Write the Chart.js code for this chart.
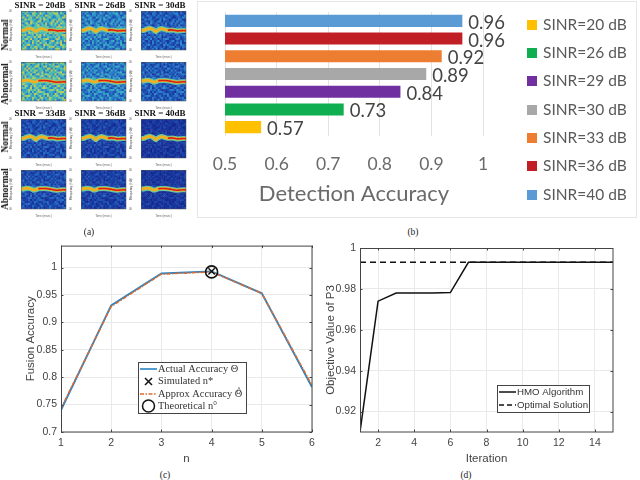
<!DOCTYPE html>
<html><head><meta charset="utf-8">
<script src="https://cdn.jsdelivr.net/npm/chart.js@4"></script>
<style>
html,body{margin:0;padding:0;background:#fff;width:640px;height:480px;overflow:hidden}
canvas{position:absolute}
.t{position:absolute;white-space:nowrap;color:#222;line-height:1;transform:translate(-50%,-50%)}
.cap{font:9.5px "Liberation Serif",serif}
.head{font:bold 9px "Liberation Serif",serif;color:#111;filter:blur(.25px)}
.row{font:bold 9.5px "Liberation Serif",serif;color:#111;transform:translate(-50%,-50%) rotate(-90deg);filter:blur(.25px)}
#frame{position:absolute;left:197px;top:1px;width:440px;height:217px;border:1.5px solid #e6e6e6;box-sizing:border-box}
</style></head><body>
<div id="frame"></div>
<div id="root"></div>
<script>
// ---------- panel (a) ----------
const sinrHeads = ["SINR = 20dB","SINR = 26dB","SINR = 30dB","SINR = 33dB","SINR = 36dB","SINR = 40dB"];
const rowNames = ["Normal","Abnormal","Normal","Abnormal"];
const specTimeTicks = [0.5,1,1.5,2,2.5];
const specFreqTicks = [-200,-100,0,100,200];
const ridgeTime   = [0.1,0.3,0.5,0.7,0.9,1.05,1.2,1.4,1.6,1.8,2.0,2.2,2.4,2.6,2.8,2.95];
const ridgeNormal = [0,2,16,22,6,-12,8,20,12,2,6,3,-4,-2,0,-2];
const ridgeAbnormal=[4,8,14,8,-6,-2,8,10,10,8,2,-4,-8,-5,-3,-4];
const redNormal   = [null,null,null,null,null,null,null,null,null,2,6,3,-4,-2,0,-2];
const redAbnormal = [null,null,null,null,null,null,8,10,10,8,2,-4,-8,-5,-3,-4];
const speckleNormal = [
"362815490372618459250713","517320864195302746981640","240963571824096351375028","683157209463715820146397",
"129476350281964037528610","754208613970425168093472","306819547236081592741865","841572036915470263609134",
"258730164892357014286957","093645827104683729415308","671482950367129485037261","325096718243560871954620",
"948213607591834206173589","160574392870216543628047","537829146053798120496135","482061735914620379052718",
"715340926184370652384901","062893514720968431720965","439106287351604879143286","586214739068215340697052"];
const speckleAbnormal = [
"203758961427593016482971","971460325816042738015364","340825179603781254796208","628193740562319807143659",
"154907368245076193820437","790362581439120645367912","263548017926487351904586","819035642178305926271340",
"507261983340752618659023","346892150763924087318765","082714536109683274540196","695320874251036149782305",
"418607293562840731069254","756129048317965204831670","031586472940213687295418","924370615786501432067893",
"682045197323768140951726","147893260571409326683015","390612854078251963427580","865241703916034852710369"];
// low/high colour-map position of the noise floor per SINR panel
const noiseLow  = [0.32,0.18,0.10,0.07,0.05,0.03];
const noiseHigh = [0.76,0.50,0.38,0.31,0.25,0.19];
const jetStops = [[0,"#141f80"],[.15,"#1b3fa8"],[.3,"#2570c8"],[.45,"#35a8c8"],[.6,"#5cc8a0"],[.75,"#c8d050"],[.9,"#f0a020"],[1,"#d02010"]];

// ---------- panel (b) ----------
const barLabels = ["SINR=20 dB","SINR=26 dB","SINR=29 dB","SINR=30 dB","SINR=33 dB","SINR=36 dB","SINR=40 dB"];
const barValues = [0.57,0.73,0.84,0.89,0.92,0.96,0.96];
const barColors = ["#ffc000","#0fae50","#7030a0","#a8a8a8","#ed7d31","#c01f25","#5b9bd5"];

// ---------- panel (c) ----------
const nValues = [1,2,3,4,5,6];
const actualAccuracy = [0.740,0.931,0.989,0.993,0.953,0.782];
const approxAccuracy = [0.743,0.929,0.988,0.992,0.953,0.785];
const simulatedPoint = [{x:4,y:0.993}];
const theoreticalPoint = [{x:4,y:0.992}];
const fusionTicks = [0.7,0.75,0.8,0.85,0.9,0.95,1];

// ---------- panel (d) ----------
const iterations = [1,2,3,4,5,6,7,8,9,10,11,12,13,14,15];
const hmoValues = [0.91,0.974,0.978,0.978,0.978,0.9782,0.993,0.993,0.993,0.993,0.993,0.993,0.993,0.993,0.993];
const optimalValues = [0.993,0.993,0.993,0.993,0.993,0.993,0.993,0.993,0.993,0.993,0.993,0.993,0.993,0.993,0.993];
const iterTicks = [2,4,6,8,10,12,14];
const objTicks = [0.92,0.94,0.96,0.98,1];

Chart.defaults.animation = false;
Chart.defaults.responsive = false;
Chart.defaults.plugins.legend.display = false;
Chart.defaults.plugins.tooltip.enabled = false;

const root = document.getElementById("root");
function mk(l,t,w,h,extra){const c=document.createElement("canvas");c.width=w;c.height=h;c.style.left=l+"px";c.style.top=t+"px";c.style.width=w+"px";c.style.height=h+"px";if(extra)c.style.filter=extra;root.appendChild(c);return c;}
function text(cls,x,y,s){const d=document.createElement("div");d.className="t "+cls;d.style.left=x+"px";d.style.top=y+"px";d.textContent=s;root.appendChild(d);}
function hex(h){return [1,3,5].map(i=>parseInt(h.substr(i,2),16));}
function jet(v){for(let i=1;i<jetStops.length;i++){if(v<=jetStops[i][0]){const a=jetStops[i-1],b=jetStops[i],f=(v-a[0])/(b[0]-a[0]);const p=hex(a[1]),q=hex(b[1]);return `rgb(${p.map((c,k)=>Math.round(c+(q[k]-c)*f)).join(",")})`;}}return jetStops[7][1];}
const fixed = v => s => { if(s.isHorizontal()){ s.height=v; s.paddingLeft=0; s.paddingRight=0; } else { s.width=v; s.paddingTop=0; s.paddingBottom=0; } };
const setTicks = list => s => { s.ticks = list.map(v=>({value:v})); };

// matlab-like box with inward ticks
const boxPlugin = {id:"boxPlugin",afterDatasetsDraw(ch,a,o){
  const {ctx,chartArea:A,scales:{x,y}}=ch; const L=o.len===undefined?2.5:o.len;
  ctx.save();ctx.strokeStyle=o.color||"#444";ctx.lineWidth=o.width||1;
  ctx.strokeRect(A.left+.5,A.top+.5,A.right-A.left-1+.5,A.bottom-A.top-1+.5);
  ctx.beginPath();
  x.ticks.forEach(t=>{const p=Math.round(x.getPixelForValue(t.value))+.5;ctx.moveTo(p,A.bottom);ctx.lineTo(p,A.bottom-L);ctx.moveTo(p,A.top);ctx.lineTo(p,A.top+L);});
  y.ticks.forEach(t=>{const p=Math.round(y.getPixelForValue(t.value))+.5;ctx.moveTo(A.left,p);ctx.lineTo(A.left+L,p);ctx.moveTo(A.right,p);ctx.lineTo(A.right-L,p);});
  ctx.stroke();ctx.restore();
}};
// boxed legend placed in canvas pixels
const noteLegend = {id:"noteLegend",afterDraw(ch,a,o){
  if(!o.items)return; const ctx=ch.ctx; ctx.save();
  ctx.fillStyle="#fff";ctx.strokeStyle="#444";ctx.lineWidth=1;
  ctx.fillRect(o.x,o.y,o.w,o.h);ctx.strokeRect(o.x+.5,o.y+.5,o.w,o.h);
  ctx.textBaseline="middle";ctx.font=o.font;ctx.letterSpacing=o.spacing||"0px";
  o.items.forEach(it=>{
    ctx.fillStyle="#333";ctx.fillText(it.label,o.x+o.textX,it.y);
    if(it.hat){const w=ctx.measureText(it.label).width,gw=ctx.measureText("Θ").width;ctx.fillText("^",o.x+o.textX+w-gw/2-2,it.y-3);}
    ctx.strokeStyle=it.color;ctx.lineWidth=it.lw||1.5;ctx.setLineDash(it.dash||[]);
    const x0=o.x+2,x1=o.x+o.textX-1;
    if(it.kind==="line"){ctx.beginPath();ctx.moveTo(x0,it.y);ctx.lineTo(x1,it.y);ctx.stroke();}
    else if(it.kind==="x"){const c=(x0+x1)/2,r=3.5;ctx.beginPath();ctx.moveTo(c-r,it.y-r);ctx.lineTo(c+r,it.y+r);ctx.moveTo(c-r,it.y+r);ctx.lineTo(c+r,it.y-r);ctx.stroke();}
    else {const c=(x0+x1)/2;ctx.beginPath();ctx.arc(c,it.y,6,0,7);ctx.stroke();}
    ctx.setLineDash([]);
  });
  ctx.restore();
}};
// value labels and swatch legend of the bar chart
const legendRows = {"SINR=20 dB":23,"SINR=26 dB":51,"SINR=29 dB":79,"SINR=30 dB":108,"SINR=33 dB":136,"SINR=36 dB":164,"SINR=40 dB":193};
const barExtras = {id:"barExtras",afterDatasetsDraw(ch){
  const ctx=ch.ctx;ctx.save();ctx.textBaseline="middle";
  ch.data.datasets.forEach((d,i)=>{
    const el=ch.getDatasetMeta(i).data[0];
    ctx.font='18.5px Lato';ctx.fillStyle="#444";ctx.textAlign="left";
    ctx.fillText(d.data[0].toFixed(2),el.x+6,el.y+2);
    const ly=legendRows[d.label];
    ctx.fillStyle=d.backgroundColor;ctx.fillRect(329,ly-5,10,10);
    ctx.font='15.5px Lato';ctx.fillStyle="#595959";ctx.fillText(d.label,345,ly);
  });
  ctx.restore();
}};

// ---------- build panel (a) ----------
const colX=[21,81,141], rowY=[11,62,119,170];
const nCols=24,nRows=20,tMin=0.1,tMax=2.95,fMin=-200,fMax=200;
function spec(col,row,idx){
  const normal=row%2===0;
  const pat=normal?speckleNormal:speckleAbnormal;
  const cells=[],cols=[];
  pat.forEach((line,r)=>[...line].forEach((ch,c)=>{
    cells.push({x:tMin+(c+.5)/nCols*(tMax-tMin),y:fMax-(r+.5)/nRows*(fMax-fMin)});
    cols.push(jet(noiseLow[idx]+(noiseHigh[idx]-noiseLow[idx])*(+ch)/9));
  }));
  const ridge=normal?ridgeNormal:ridgeAbnormal, red=normal?redNormal:redAbnormal;
  const line=(vals,color,w)=>({data:vals,borderColor:color,borderWidth:w,pointRadius:0,tension:.3,spanGaps:false,showLine:true});
  const pts=a=>ridgeTime.map((t,i)=>({x:t,y:a[i]}));
  new Chart(mk(colX[col]-12,rowY[row]-6,61,54,"blur(.4px)"),{type:"scatter",
    data:{datasets:[
      line(pts(red),"#d8201a",1.6),
      line(pts(ridge),"#f0b020",2.8),
      line(pts(ridge),"#68c8a0",5),
      {data:cells,pointStyle:"rect",pointRadius:1.7,pointBackgroundColor:cols,pointBorderWidth:0,showLine:false}
    ]},
    options:{layout:{padding:{top:6,right:2}},
      scales:{
        x:{type:"linear",min:tMin,max:tMax,afterBuildTicks:setTicks(specTimeTicks),afterFit:fixed(9),grid:{display:false},border:{display:false},
           title:{display:true,text:"Time (msec)",font:{size:3,family:"Liberation Sans"},color:"#666",padding:0},
           ticks:{font:{size:3,family:"Liberation Sans"},color:"#666",padding:1,maxRotation:0,autoSkip:false}},
        y:{min:fMin,max:fMax,afterBuildTicks:setTicks(specFreqTicks),afterFit:fixed(12),grid:{display:false},border:{display:false},
           title:{display:true,text:"Frequency (Hz)",font:{size:3,family:"Liberation Sans"},color:"#666",padding:0},
           ticks:{font:{size:3,family:"Liberation Sans"},color:"#666",padding:1,autoSkip:false}}
      },
      plugins:{boxPlugin:{len:0,color:"#555",width:.5}}},
    plugins:[boxPlugin]});
}
const panelSinr=[[0,1,2],[0,1,2],[3,4,5],[3,4,5]];
rowY.forEach((_,r)=>colX.forEach((_,c)=>spec(c,r,panelSinr[r][c])));
[0,1,2].forEach(i=>text("head",[40,100,160][i],5,sinrHeads[i]));
[0,1,2].forEach(i=>text("head",[40,100,160][i],113,sinrHeads[i+3]));
[35,84,137,189].forEach((y,i)=>text("row",5,y,rowNames[i]));

// ---------- panel (b) ----------
new Chart(mk(198,2,439,216),{type:"bar",
  data:{labels:["Detection"],datasets:barLabels.map((l,i)=>({label:l,data:[barValues[i]],backgroundColor:barColors[i]})).reverse()},
  options:{indexAxis:"y",
    layout:{padding:{left:27,top:10,right:154,bottom:11}},
    datasets:{bar:{categoryPercentage:1,barPercentage:.68}},
    scales:{
      y:{display:false},
      x:{min:.5,max:1,afterBuildTicks:setTicks([.5,.6,.7,.8,.9,1]),afterFit:fixed(71),
        grid:{color:"#e2e2e2",drawTicks:false},border:{display:false},
        ticks:{font:{size:17.5,family:"Lato"},color:"#6a6a6a",padding:18,autoSkip:false,maxRotation:0,callback:v=>String(v)},
        title:{display:true,text:"Detection Accuracy",font:{size:22,family:"Lato"},color:"#6a6a6a",padding:0}}
    }},
  plugins:[barExtras]});

// ---------- panel (c) ----------
const tickFont={size:10.5,family:"Liberation Sans"};
const titleFont={size:11.5,family:"Liberation Sans"};
new Chart(mk(24,238,296,232),{type:"line",
  data:{datasets:[
    {label:"Theoretical n°",type:"scatter",data:theoreticalPoint,pointStyle:"circle",pointRadius:6,pointBorderColor:"#111",pointBackgroundColor:"transparent",pointBorderWidth:1.6},
    {label:"Simulated n*",type:"scatter",data:simulatedPoint,pointStyle:"crossRot",pointRadius:4.5,pointBorderColor:"#111",pointBorderWidth:1.4},
    {label:"Approx Accuracy Θ̂",data:nValues.map((n,i)=>({x:n,y:approxAccuracy[i]})),borderColor:"#dd6a2c",borderWidth:1.5,borderDash:[4,1.5,1.5,1.5],pointRadius:0},
    {label:"Actual Accuracy Θ",data:nValues.map((n,i)=>({x:n,y:actualAccuracy[i]})),borderColor:"#2b84c4",borderWidth:1.9,pointRadius:0}
  ]},
  options:{layout:{padding:{top:7,right:8,bottom:4}},
    scales:{
      x:{type:"linear",min:1,max:6,afterBuildTicks:setTicks(nValues),afterFit:fixed(34),grid:{color:"#e9e9e9",drawTicks:false},border:{display:false},
        ticks:{font:tickFont,color:"#444",padding:5,autoSkip:false,maxRotation:0},
        title:{display:true,text:"n",font:titleFont,color:"#444",padding:{top:3,bottom:0}}},
      y:{min:.7,max:1.04,afterBuildTicks:setTicks(fusionTicks),afterFit:fixed(37),grid:{color:"#e9e9e9",drawTicks:false},border:{display:false},
        ticks:{font:tickFont,color:"#444",padding:4,autoSkip:false,callback:v=>String(v)},
        title:{display:true,text:"Fusion Accuracy",font:titleFont,color:"#444",padding:{top:0,bottom:0}}}
    },
    plugins:{noteLegend:{x:114,y:124,w:108,h:51,textX:20,font:'10.4px "Liberation Serif"',spacing:"0px",items:[
      {label:"Actual Accuracy Θ",y:131,kind:"line",color:"#2b84c4",lw:1.6},
      {label:"Simulated n*",y:143.5,kind:"x",color:"#111",lw:1.5},
      {label:"Approx Accuracy Θ",y:156,kind:"line",color:"#dd6a2c",lw:1.5,dash:[4,1.5,1.5,1.5],hat:true},
      {label:"Theoretical n°",y:168,kind:"o",color:"#111",lw:1.5}
    ]}}},
  plugins:[boxPlugin,noteLegend]});

// ---------- panel (d) ----------
new Chart(mk(324,238,308,232),{type:"line",
  data:{labels:iterations,datasets:[
    {label:"HMO Algorithm",data:iterations.map((n,i)=>({x:n,y:hmoValues[i]})),borderColor:"#111",borderWidth:1.5,pointRadius:0},
    {label:"Optimal Solution",data:iterations.map((n,i)=>({x:n,y:optimalValues[i]})),borderColor:"#111",borderWidth:1.5,borderDash:[6,4],pointRadius:0}
  ]},
  options:{layout:{padding:{top:10,right:19,bottom:4}},
    scales:{
      x:{type:"linear",min:1,max:15,afterBuildTicks:setTicks(iterTicks),afterFit:fixed(34),grid:{color:"#e9e9e9",drawTicks:false},border:{display:false},
        ticks:{font:tickFont,color:"#444",padding:5,autoSkip:false,maxRotation:0},
        title:{display:true,text:"Iteration",font:titleFont,color:"#444",padding:{top:3,bottom:0}}},
      y:{min:.91,max:1,afterBuildTicks:setTicks(objTicks),afterFit:fixed(36),grid:{color:"#e9e9e9",drawTicks:false},border:{display:false},
        ticks:{font:tickFont,color:"#444",padding:4,autoSkip:false,callback:v=>String(v)},
        title:{display:true,text:"Objective Value of P3",font:titleFont,color:"#444",padding:{top:0,bottom:0}}}
    },
    plugins:{noteLegend:{x:173,y:147,w:92,h:27,textX:20,font:'9.7px "Liberation Sans"',spacing:"0px",items:[
      {label:"HMO Algorithm",y:154,kind:"line",color:"#111",lw:1.5},
      {label:"Optimal Solution",y:167,kind:"line",color:"#111",lw:1.5,dash:[5,3]}
    ]}}},
  plugins:[boxPlugin,noteLegend]});

text("cap",89,232,"(a)");text("cap",413,232,"(b)");text("cap",165,475,"(c)");text("cap",466,475,"(d)");
</script>
</body></html>
